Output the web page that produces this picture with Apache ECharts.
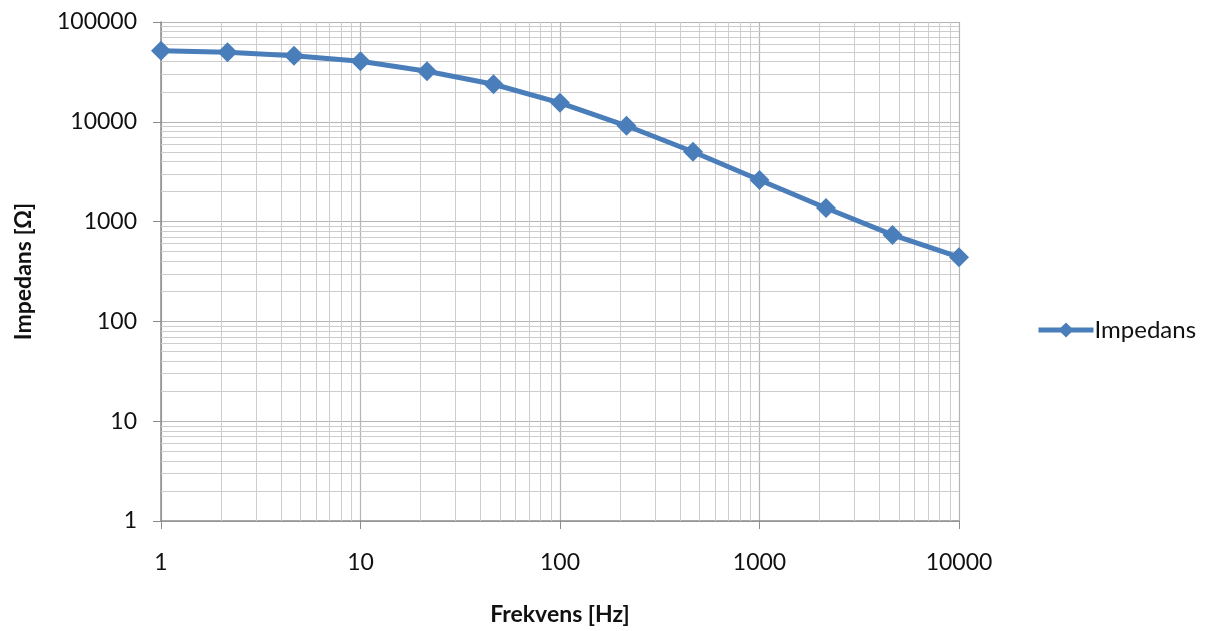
<!DOCTYPE html>
<html>
<head>
<meta charset="utf-8">
<script src="https://cdn.jsdelivr.net/npm/echarts@6/dist/echarts.min.js"></script>
<style>
  html, body { margin: 0; padding: 0; background: #fff; }
  #chart { width: 1206px; height: 631px; }
</style>
</head>
<body>
<div id="chart"></div>
<script>
// frekvens [Hz] og impedans [Ω]
var frekvens = [1, 2.154, 4.642, 10, 21.54, 46.42, 100, 215.4, 464.2, 1000, 2154, 4642, 10000];
var impedans = [51600, 49800, 46000, 40500, 32100, 23800, 15500, 9120, 5010, 2610, 1370, 736, 440];
var xDekader = [1, 10, 100, 1000];
var yDekader = [1, 10, 100, 1000, 10000];
var trinn = [2, 3, 4, 5, 6, 7, 8, 9];

var chart = echarts.init(document.getElementById('chart'));

// hjelpelinjer mellom dekadene
var minorLines = [];
xDekader.forEach(function (d) {
    trinn.forEach(function (t) { minorLines.push({ xAxis: d * t }); });
});
yDekader.forEach(function (d) {
    trinn.forEach(function (t) { minorLines.push({ yAxis: d * t }); });
});

var font = 'Lato, "Open Sans", sans-serif';
var plain = function (v) { return String(Math.round(v)); };

var option = {
    animation: false,
    backgroundColor: '#fff',
    grid: { left: 161, right: 247, top: 22, bottom: 109 },
    legend: {
        data: ['Impedans'],
        orient: 'vertical',
        left: 1031,
        top: 313,
        itemWidth: 55,
        itemHeight: 19,
        itemGap: 4,
        lineStyle: { width: 5 },
        textStyle: { fontFamily: font, fontSize: 24, color: '#111', padding: [0, 0, 0, -4] }
    },
    xAxis: {
        type: 'log',
        logBase: 10,
        min: 1,
        max: 10000,
        name: 'Frekvens [Hz]',
        nameLocation: 'middle',
        nameGap: 82,
        nameTextStyle: { fontFamily: font, fontSize: 23, fontWeight: 'bold', color: '#111' },
        axisLine: { lineStyle: { color: '#8c8c8c', width: 1.5 } },
        axisTick: { show: true, length: 8, lineStyle: { color: '#8c8c8c' } },
        axisLabel: { fontFamily: font, fontSize: 23, color: '#111', margin: 30, formatter: plain },
        splitLine: { show: true, lineStyle: { color: '#b4b4b4', width: 1.2 } }
    },
    yAxis: {
        type: 'log',
        logBase: 10,
        min: 1,
        max: 100000,
        name: 'Impedans [Ω]',
        nameLocation: 'middle',
        nameGap: 126,
        nameTextStyle: { fontFamily: font, fontSize: 23, fontWeight: 'bold', color: '#111' },
        axisLine: { show: true, lineStyle: { color: '#8c8c8c', width: 1.5 } },
        axisTick: { show: true, length: 8, lineStyle: { color: '#8c8c8c' } },
        axisLabel: { fontFamily: font, fontSize: 23, color: '#111', margin: 24, formatter: plain },
        splitLine: { show: true, lineStyle: { color: '#b4b4b4', width: 1.2 } }
    },
    series: [
        {
            name: 'grid',
            type: 'line',
            data: [],
            silent: true,
            markLine: {
                silent: true,
                symbol: 'none',
                label: { show: false },
                lineStyle: { color: '#cdcdcd', width: 1, type: 'solid' },
                emphasis: { disabled: true },
                data: minorLines
            }
        },
        {
            name: 'Impedans',
            type: 'line',
            data: frekvens.map(function (f, i) { return [f, impedans[i]]; }),
            symbol: 'diamond',
            symbolSize: 20,
            itemStyle: { color: '#4a7ebb' },
            lineStyle: { color: '#4a7ebb', width: 5 },
            z: 5
        }
    ]
};

chart.setOption(option);
</script>
</body>
</html>
